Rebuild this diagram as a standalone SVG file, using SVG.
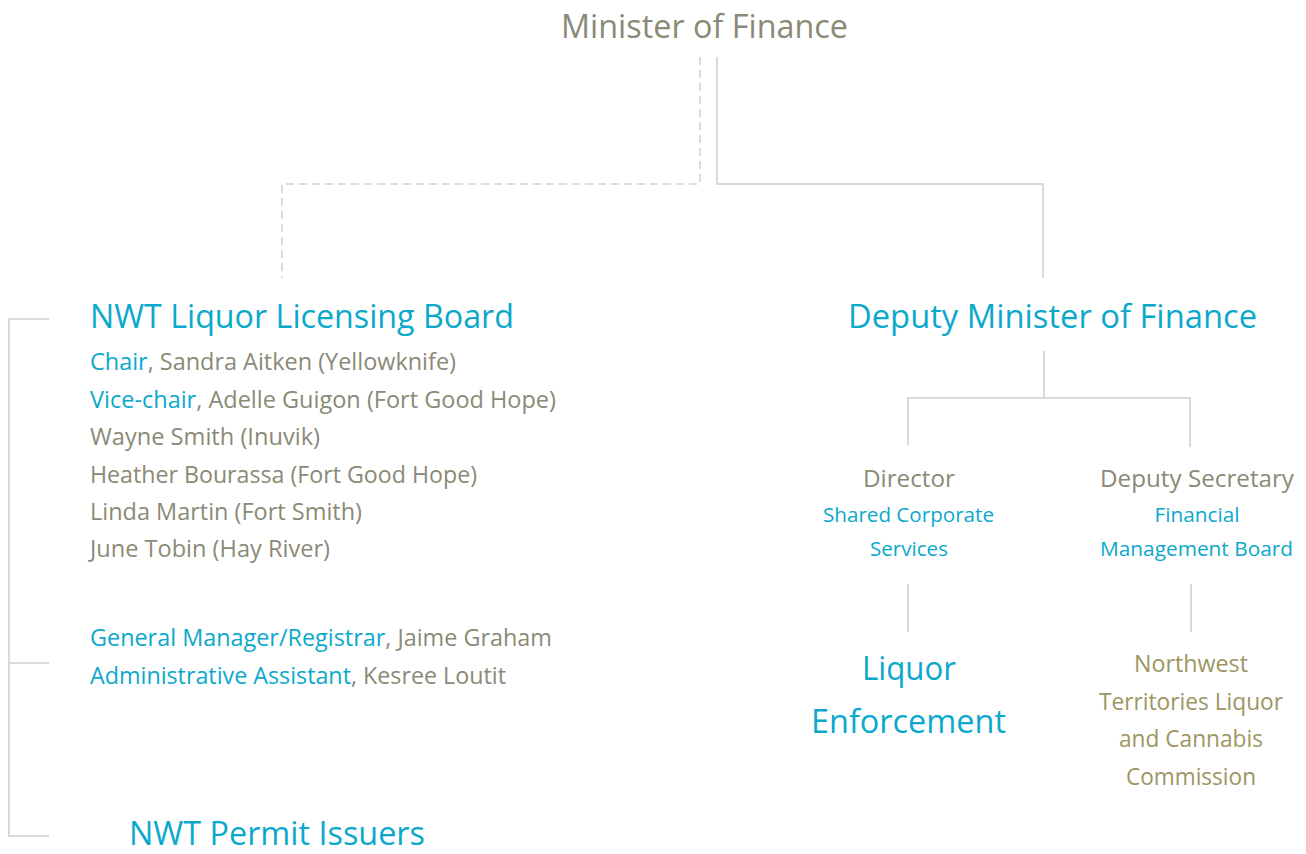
<svg xmlns="http://www.w3.org/2000/svg" width="1306" height="854" viewBox="0 0 1306 854">
<style>
text{font-family:"Open Sans","Noto Sans","Liberation Sans",sans-serif}
.g{fill:#8A8A76}
.b{fill:#0AA9CC}
.o{fill:#9C9662}
.xl{font-size:32px}
.m{font-size:23px}
.d{font-size:24px}
.s{font-size:20.5px}
.c{text-anchor:middle}
.ln{fill:none;stroke:#D9D9D9;stroke-width:2}
.dash{fill:none;stroke:#DCDCDC;stroke-width:2;stroke-dasharray:8 5}
</style>
<rect width="1306" height="854" fill="#FFFFFF"/>
<g id="connectors">
<path class="dash" d="M700 57 V184 H282 V278"/>
<path class="ln" d="M717 57 V184 H1043 V278"/>
<path class="ln" d="M1044 351 V398"/>
<path class="ln" d="M908 445 V398 H1190 V447"/>
<path class="ln" d="M908 584 V632"/>
<path class="ln" d="M1191 584 V632"/>
<path class="ln" d="M49 319 H9 V836 H49"/>
<path class="ln" d="M9 663 H49"/>
</g>
<g id="minister">
<text class="g xl c" x="704.5" y="38" textLength="287" lengthAdjust="spacingAndGlyphs">Minister of Finance</text>
</g>
<g id="board">
<text class="b xl" x="90" y="328" textLength="424" lengthAdjust="spacingAndGlyphs">NWT Liquor Licensing Board</text>
<text class="g m" x="90" y="370" textLength="366" lengthAdjust="spacingAndGlyphs"><tspan class="b">Chair</tspan>, Sandra Aitken (Yellowknife)</text>
<text class="g m" x="90" y="408" textLength="466" lengthAdjust="spacingAndGlyphs"><tspan class="b">Vice-chair</tspan>, Adelle Guigon (Fort Good Hope)</text>
<text class="g m" x="90" y="445" textLength="230" lengthAdjust="spacingAndGlyphs">Wayne Smith (Inuvik)</text>
<text class="g m" x="90" y="483" textLength="387" lengthAdjust="spacingAndGlyphs">Heather Bourassa (Fort Good Hope)</text>
<text class="g m" x="90" y="520" textLength="272" lengthAdjust="spacingAndGlyphs">Linda Martin (Fort Smith)</text>
<text class="g m" x="90" y="557" textLength="240" lengthAdjust="spacingAndGlyphs">June Tobin (Hay River)</text>
</g>
<g id="staff">
<text class="g m" x="90" y="646" textLength="462" lengthAdjust="spacingAndGlyphs"><tspan class="b">General Manager/Registrar</tspan>, Jaime Graham</text>
<text class="g m" x="90" y="684" textLength="416" lengthAdjust="spacingAndGlyphs"><tspan class="b">Administrative Assistant</tspan>, Kesree Loutit</text>
</g>
<g id="permit">
<text class="b xl" x="129" y="845" textLength="296" lengthAdjust="spacingAndGlyphs">NWT Permit Issuers</text>
</g>
<g id="deputy-minister">
<text class="b xl c" x="1052.5" y="328" textLength="409" lengthAdjust="spacingAndGlyphs">Deputy Minister of Finance</text>
</g>
<g id="director">
<text class="g d c" x="909" y="487" textLength="92" lengthAdjust="spacingAndGlyphs">Director</text>
<text class="b s c" x="908.5" y="522" textLength="171" lengthAdjust="spacingAndGlyphs">Shared Corporate</text>
<text class="b s c" x="909" y="556" textLength="78" lengthAdjust="spacingAndGlyphs">Services</text>
</g>
<g id="deputy-secretary">
<text class="g d c" x="1197" y="487" textLength="194" lengthAdjust="spacingAndGlyphs">Deputy Secretary</text>
<text class="b s c" x="1197" y="522" textLength="85" lengthAdjust="spacingAndGlyphs">Financial</text>
<text class="b s c" x="1196.5" y="556" textLength="193" lengthAdjust="spacingAndGlyphs">Management Board</text>
</g>
<g id="liquor-enforcement">
<text class="b xl c" x="909" y="680" textLength="94" lengthAdjust="spacingAndGlyphs">Liquor</text>
<text class="b xl c" x="908.5" y="733" textLength="195" lengthAdjust="spacingAndGlyphs">Enforcement</text>
</g>
<g id="commission">
<text class="o m c" x="1191" y="672" textLength="114" lengthAdjust="spacingAndGlyphs">Northwest</text>
<text class="o m c" x="1191" y="710" textLength="184" lengthAdjust="spacingAndGlyphs">Territories Liquor</text>
<text class="o m c" x="1191" y="747" textLength="144" lengthAdjust="spacingAndGlyphs">and Cannabis</text>
<text class="o m c" x="1191" y="785" textLength="130" lengthAdjust="spacingAndGlyphs">Commission</text>
</g>
</svg>
